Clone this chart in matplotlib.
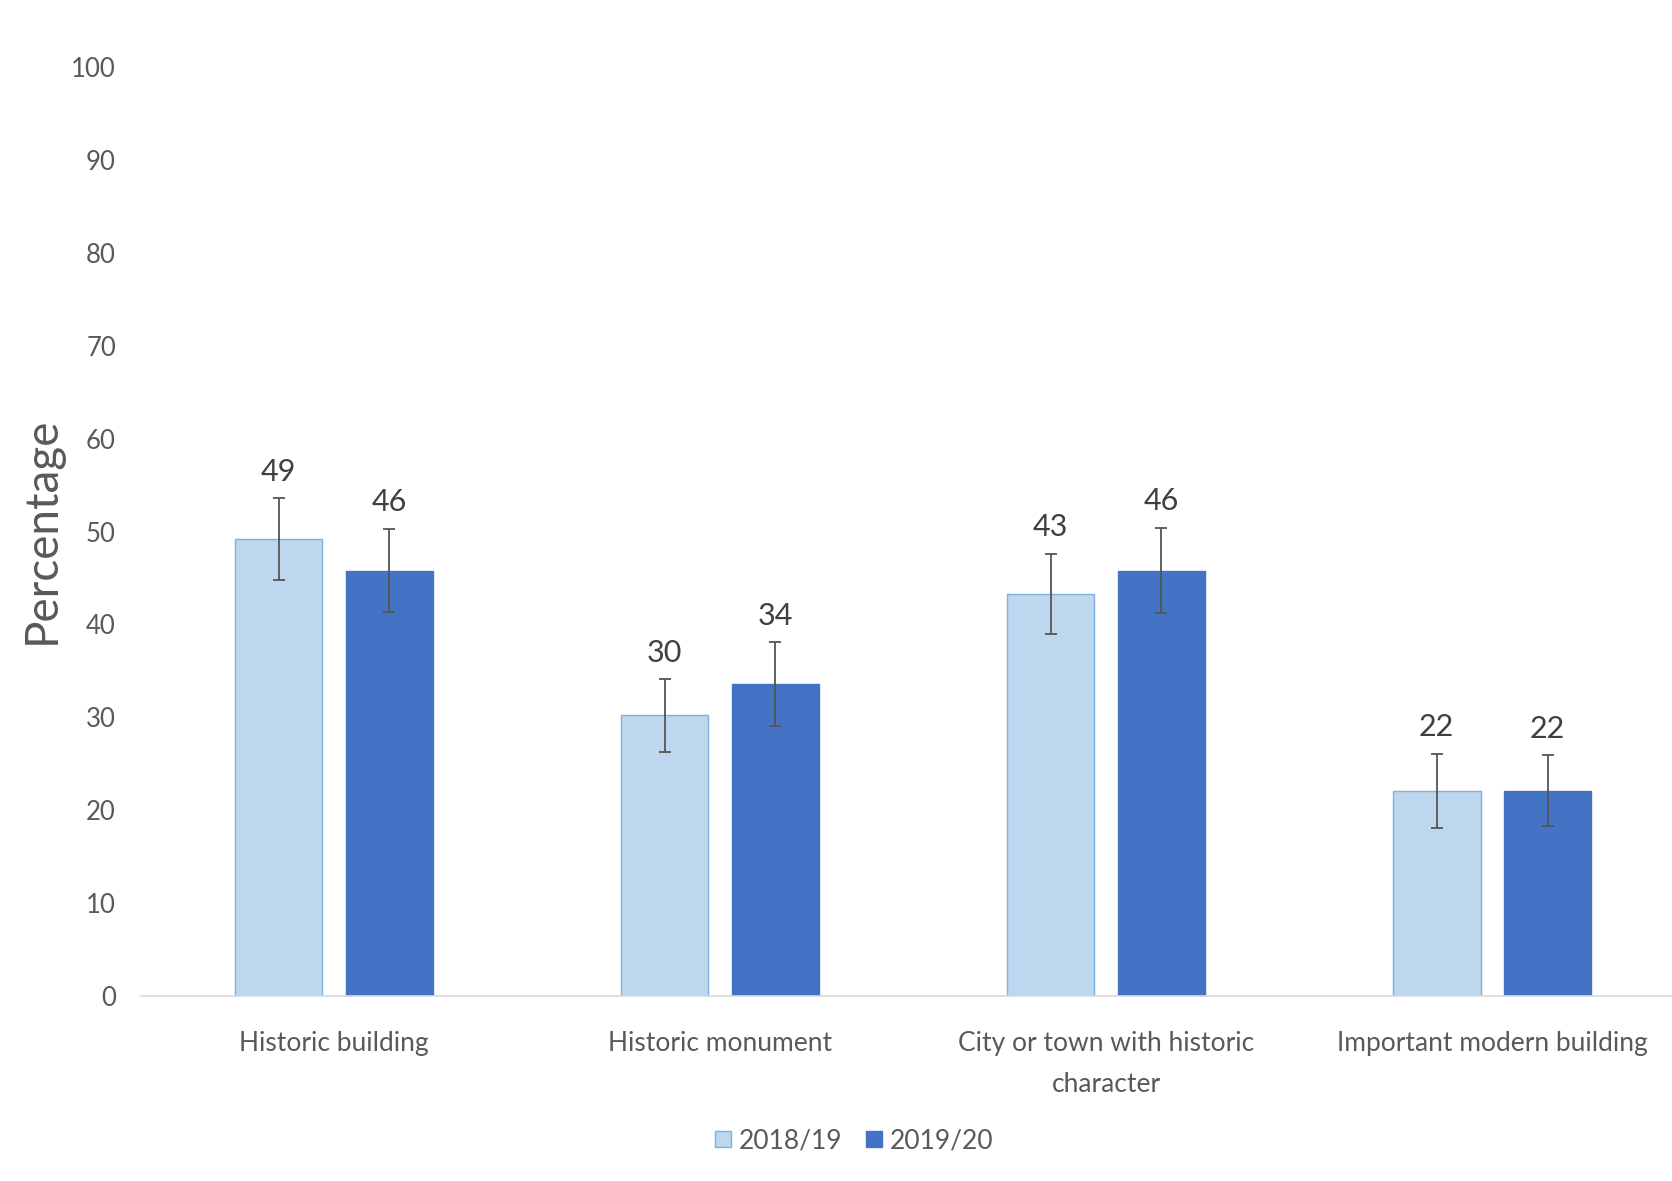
import numpy as np
from matplotlib import pyplot as plt

categories = ['Historic building', 'Historic monument',
              'City or town with historic\ncharacter', 'Important modern building']
years = ['2018/19', '2019/20']
values_1819 = [49.2, 30.2, 43.3, 22.1]
values_1920 = [45.8, 33.6, 45.8, 22.1]
err_1819 = [4.4, 3.9, 4.3, 4.0]
err_1920 = [4.5, 4.5, 4.6, 3.8]
labels_1819 = ['49', '30', '43', '22']
labels_1920 = ['46', '34', '46', '22']

plt.rcParams['font.family'] = ['Lato', 'DejaVu Sans']

fig = plt.figure(figsize=(16.72, 11.81), dpi=100)
ax = fig.add_axes([0.0843, 0.1566, 0.9157, 0.7867])

x = np.arange(len(categories))
width = 0.227
offset = 0.1435
text_col = '#595959'

bars1 = ax.bar(x - offset, values_1819, width, color='#BDD7EE', edgecolor='#7FB0E0',
               linewidth=1, label=years[0])
bars2 = ax.bar(x + offset, values_1920, width, color='#4472C4', edgecolor='#4472C4',
               linewidth=1, label=years[1])
ax.errorbar(x - offset, values_1819, yerr=err_1819, fmt='none', ecolor='#555555',
            elinewidth=1.3, capsize=4, capthick=1.3)
ax.errorbar(x + offset, values_1920, yerr=err_1920, fmt='none', ecolor='#555555',
            elinewidth=1.3, capsize=4, capthick=1.3)

# data labels sit above the error bars
for xs, vals, errs, labs in [(x - offset, values_1819, err_1819, labels_1819),
                             (x + offset, values_1920, err_1920, labels_1920)]:
    for xi, v, e, lab in zip(xs, vals, errs, labs):
        ax.annotate(lab, (xi, v + e), xytext=(0, 9), textcoords='offset points',
                    ha='center', va='bottom', fontsize=22, color='#404040')

ax.set_xlim(-0.5, 3.466)
ax.set_ylim(0, 100)
ax.set_yticks(range(0, 101, 10))
ax.set_xticks(x)
ax.set_xticklabels(categories, linespacing=1.8)
ax.tick_params(axis='y', length=0, pad=18, labelsize=18.5, labelcolor=text_col)
ax.tick_params(axis='x', length=0, pad=25, labelsize=19, labelcolor=text_col)

for side in ['top', 'right', 'left']:
    ax.spines[side].set_visible(False)
ax.spines['bottom'].set_color('#d9d9d9')
ax.spines['bottom'].set_linewidth(1.2)

fig.text(0.025, 0.551, 'Percentage', rotation=90, ha='center', va='center',
         fontsize=33, color=text_col)

fig.legend(handles=[bars1, bars2], labels=years, loc='center',
           bbox_to_anchor=(0.511, 0.034), ncol=2, frameon=False, fontsize=19,
           handlelength=0.6, handleheight=0.6, handletextpad=0.3, columnspacing=0.9,
           labelcolor=text_col)

fig.savefig('out.png', dpi=100)
